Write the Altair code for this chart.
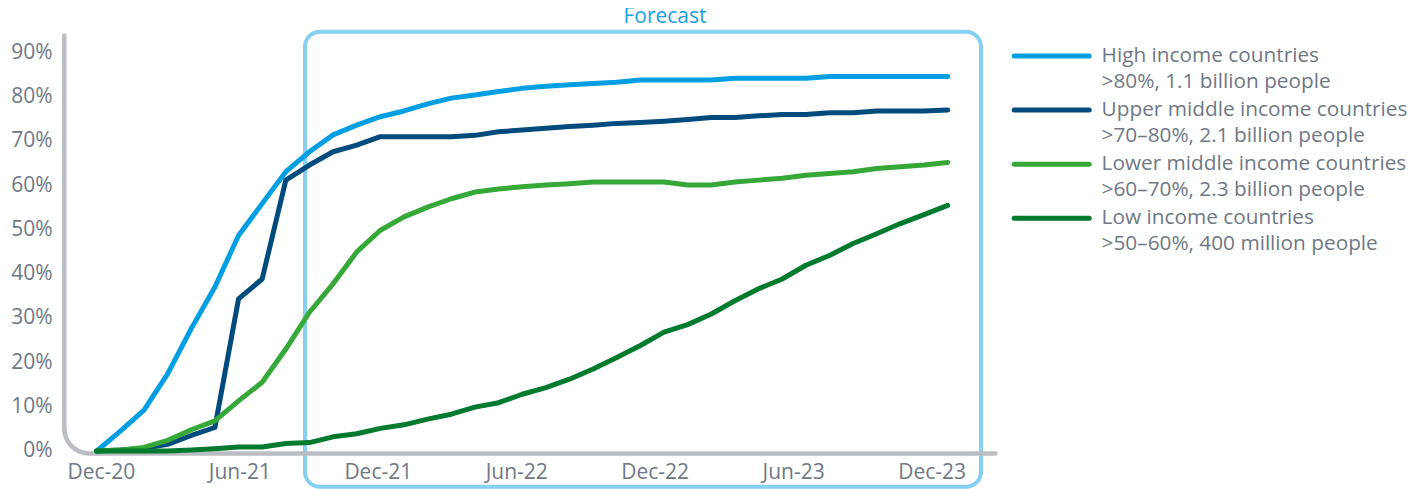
import altair as alt
import pandas as pd

months = ["Dec-20", "Jan-21", "Feb-21", "Mar-21", "Apr-21", "May-21", "Jun-21", "Jul-21",
          "Aug-21", "Sep-21", "Oct-21", "Nov-21", "Dec-21", "Jan-22", "Feb-22", "Mar-22",
          "Apr-22", "May-22", "Jun-22", "Jul-22", "Aug-22", "Sep-22", "Oct-22", "Nov-22",
          "Dec-22", "Jan-23", "Feb-23", "Mar-23", "Apr-23", "May-23", "Jun-23", "Jul-23",
          "Aug-23", "Sep-23", "Oct-23", "Nov-23", "Dec-23"]
tick_labels = ["Dec-20", "Jun-21", "Dec-21", "Jun-22", "Dec-22", "Jun-23", "Dec-23"]
y_ticks = [0, 10, 20, 30, 40, 50, 60, 70, 80, 90]

series_names = ["High income countries", "Upper middle income countries",
                "Lower middle income countries", "Low income countries"]
series_subtitles = [">80%, 1.1 billion people", ">70\u201380%, 2.1 billion people",
                    ">60\u201370%, 2.3 billion people", ">50\u201360%, 400 million people"]
series_colors = ["#009fe3", "#004b7d", "#35a838", "#007a2f"]

high = [0, 4.5, 9.2, 17.4, 27.6, 37.0, 48.6, 55.8, 63.0, 67.5, 71.3, 73.5, 75.4, 76.7,
        78.3, 79.6, 80.3, 81.1, 81.8, 82.3, 82.6, 82.9, 83.2, 83.7, 83.7, 83.7, 83.7,
        84.1, 84.1, 84.1, 84.1, 84.5, 84.5, 84.5, 84.5, 84.5, 84.5]
upper = [0, 0.2, 0.6, 1.5, 3.5, 5.3, 34.3, 38.8, 61.1, 64.5, 67.5, 69.0, 70.9, 70.9,
         70.9, 70.9, 71.2, 72.0, 72.4, 72.8, 73.2, 73.5, 73.9, 74.1, 74.4, 74.8, 75.2,
         75.2, 75.6, 75.9, 75.9, 76.3, 76.3, 76.7, 76.7, 76.7, 76.9]
lower = [0, 0.2, 0.8, 2.4, 4.8, 6.8, 11.3, 15.5, 23.0, 31.3, 37.7, 44.9, 49.8, 52.8,
         55.0, 56.9, 58.4, 59.1, 59.6, 60.0, 60.3, 60.7, 60.7, 60.7, 60.7, 60.0, 60.0,
         60.7, 61.1, 61.5, 62.2, 62.6, 63.0, 63.7, 64.1, 64.5, 65.1]
low = [0, 0, 0, 0, 0.2, 0.5, 0.9, 0.9, 1.7, 1.9, 3.2, 3.9, 5.1, 5.9, 7.2, 8.3, 9.9,
       10.9, 12.8, 14.3, 16.2, 18.5, 21.1, 23.8, 26.8, 28.5, 30.9, 33.9, 36.6, 38.8,
       41.9, 44.1, 46.8, 49.0, 51.3, 53.3, 55.4]

FONT = "Open Sans"
TEXT = "#6f7887"
GRAY = "#babdc2"
BOX = "#86cff0"

rows = []
for name, vals in zip(series_names, [high, upper, lower, low]):
    for m, v in zip(months, vals):
        rows.append({"month": m, "value": v, "series": name})
df = pd.DataFrame(rows)

tick_js = "[" + ",".join("'" + t + "'" for t in tick_labels) + "]"

x_enc = alt.X("month:O", sort=months,
              scale=alt.Scale(type="point", padding=0),
              axis=alt.Axis(values=tick_labels, labelAngle=0, domain=False, ticks=False,
                            tickSize=0, grid=False, labelPadding=11, labelFontSize=21,
                            labelFont=FONT, labelColor=TEXT, title=None,
                            labelOffset={"expr": "4.2 - 3.38*indexof(" + tick_js + ", datum.value)"}))
y_enc = alt.Y("value:Q", scale=alt.Scale(domain=[0, 90]),
              axis=alt.Axis(values=y_ticks, labelExpr="datum.value + '%'", domain=False,
                            ticks=False, tickSize=0, grid=False, labelPadding=44.7,
                            labelFontSize=21, labelFont=FONT, labelColor=TEXT, title=None))

base = alt.Chart(df).encode(x=x_enc, y=y_enc)
line_layers = [
    base.transform_filter(alt.datum.series == name).mark_line(
        color=col, strokeWidth=5, strokeCap="round", strokeJoin="round")
    for name, col in zip(series_names, series_colors)
]

deco = pd.DataFrame({"label": ["Forecast"]})
box = alt.Chart(deco).mark_rect(filled=False, color=BOX, strokeWidth=4, cornerRadius=15).encode(
    x=alt.value(208.3), x2=alt.value(884.3), y=alt.value(-20.3), y2=alt.value(434.7))
box_text = alt.Chart(deco).mark_text(font=FONT, fontSize=21, color="#19a0e0",
                                     align="center", baseline="middle").encode(
    x=alt.value(568.3), y=alt.value(-34.8), text="label:N")

v_axis = alt.Chart(deco).mark_rule(color=GRAY, strokeWidth=4.5, strokeCap="round").encode(
    x=alt.value(-32.4), y=alt.value(-16.5), y2=alt.value(376.5))
corner = alt.Chart(deco).mark_arc(color=GRAY, radius=27.25, radius2=22.75,
                                  theta=3.14159, theta2=4.71239).encode(
    x=alt.value(-7.4), y=alt.value(376.5))
h_axis = alt.Chart(deco).mark_rule(color=GRAY, strokeWidth=4.5, strokeCap="round").encode(
    x=alt.value(-7.4), x2=alt.value(898.7), y=alt.value(401.5))

leg = pd.DataFrame({"name": series_names, "sub": series_subtitles})
leg_base = alt.Chart(leg).transform_window(row="row_number()").transform_calculate(
    py="4 + (datum.row - 1) * 54.1")
leg_rule = leg_base.mark_rule(strokeWidth=5, strokeCap="round").encode(
    x=alt.value(917.5), x2=alt.value(992.5),
    y=alt.Y("py:Q", scale=None, axis=None),
    color=alt.Color("name:N", scale=alt.Scale(domain=series_names, range=series_colors),
                    legend=None))
leg_title = leg_base.mark_text(align="left", baseline="middle", font=FONT, fontSize=20.8,
                               color=TEXT).encode(
    x=alt.value(1004.9), y=alt.Y("py:Q", scale=None, axis=None), text="name:N")
leg_sub = leg_base.mark_text(align="left", baseline="middle", font=FONT, fontSize=20.8,
                             color=TEXT, dy=26).encode(
    x=alt.value(1004.9), y=alt.Y("py:Q", scale=None, axis=None), text="sub:N")

chart = alt.layer(box, v_axis, corner, h_axis, *line_layers, box_text,
                  leg_rule, leg_title, leg_sub).properties(
    width=851, height=399, autosize="none",
    padding={"left": 88.7, "top": 44, "right": 469, "bottom": 38},
).configure_view(stroke=None)

chart.save("out.html", embed_options={"renderer": "svg", "actions": False})
